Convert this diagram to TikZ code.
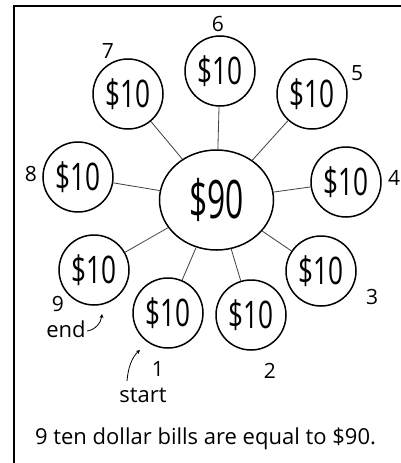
\documentclass[tikz,border=0pt]{standalone}
\usepackage{fontspec}
\setmainfont{Open Sans}
\usetikzlibrary{shapes.geometric,arrows.meta}
\begin{document}
\begin{tikzpicture}[x=1pt,y=-1pt,
  bill/.style={circle,draw,line width=1.5pt,minimum size=70pt,inner sep=0pt},
  total/.style={ellipse,draw,line width=1.5pt,minimum width=114pt,minimum height=100pt,inner sep=0pt},
  lbl/.style={inner sep=0pt,font=\fontsize{21}{25}\selectfont},
  word/.style={inner sep=0pt,font=\fontsize{22}{26}\selectfont},
  link/.style={line width=0.8pt,black!75},
  pointer/.style={line width=0.8pt,-{Stealth[length=4pt,width=4pt]}}]
\useasboundingbox (0,0) rectangle (401,463);
\fill[white] (0,0) rectangle (401,463);
\draw[line width=1.8pt] (14,463) -- (14,6) -- (401,6);
\newcommand{\ten}{\fontsize{38}{40}\selectfont\scalebox{0.69}[1]{\$10}}
% centre
\node[total] (c) at (216.5,200) {\fontsize{53}{56}\selectfont\scalebox{0.6}[1]{\$90}};
% bills
\node[bill] (n1) at (168,313) {\ten};
\node[bill] (n2) at (251,315) {\ten};
\node[bill] (n3) at (321,271) {\ten};
\node[bill] (n4) at (346,182) {\ten};
\node[bill] (n5) at (312,94) {\ten};
\node[bill] (n6) at (220,71) {\ten};
\node[bill] (n7) at (128,94) {\ten};
\node[bill] (n8) at (78,177) {\ten};
\node[bill] (n9) at (94,270) {\ten};
% links
\foreach \i in {1,...,9} {\draw[link] (c) -- (n\i);}
% numbers
\node[lbl] (l1) at (158,369) {1};
\node[lbl] (l2) at (270,371) {2};
\node[lbl] (l3) at (372,297) {3};
\node[lbl] (l4) at (394,178) {4};
\node[lbl] (l5) at (357,73) {5};
\node[lbl] (l6) at (218,24) {6};
\node[lbl] (l7) at (108,51) {7};
\node[lbl] (l8) at (31,174) {8};
\node[lbl] (l9) at (58,304) {9};
\node[word] (start) at (143,395) {start};
\node[word] (end) at (66,329) {end};
% pointers
\coordinate (sa) at (127,381);
\coordinate (sb) at (140,350);
\draw[pointer] (sa) .. controls (128,368) and (132,357) .. (sb);
\coordinate (ea) at (87,331);
\coordinate (eb) at (102,314);
\draw[pointer] (ea) .. controls (95,330) and (101,323) .. (eb);
% caption
\node[word] (cap) at (205.5,439) {9 ten dollar bills are equal to \$90.};
\end{tikzpicture}
\end{document}
